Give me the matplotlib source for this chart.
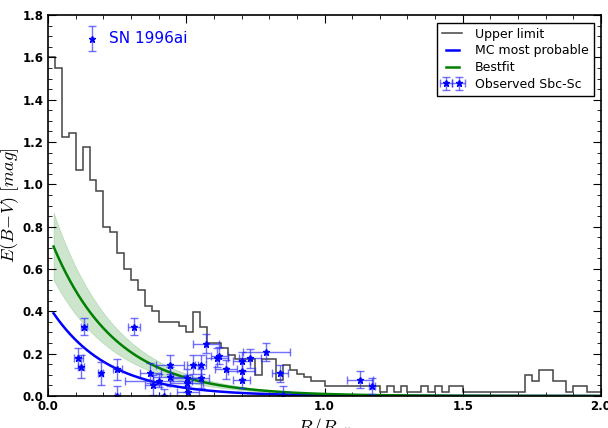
import numpy as np
import matplotlib
matplotlib.use("Agg")
import matplotlib.pyplot as plt
from matplotlib.ticker import MultipleLocator

plt.rcParams["mathtext.fontset"] = "cm"

# ---- data ----
bin_edges_start = 0.0
bin_width = 0.025
upper_limit = [1.60, 1.55, 1.225, 1.245, 1.07, 1.175, 1.02, 0.97, 0.80, 0.775,
               0.675, 0.60, 0.55, 0.50, 0.425, 0.40, 0.35, 0.35, 0.35, 0.33,
               0.30, 0.395, 0.325, 0.25, 0.25, 0.225, 0.195, 0.175, 0.175, 0.175,
               0.10, 0.175, 0.175, 0.077, 0.148, 0.125, 0.105, 0.09, 0.072, 0.072,
               0.048, 0.048, 0.048, 0.048, 0.048, 0.048, 0.048, 0.048, 0.02, 0.048,
               0.02, 0.048, 0.02, 0.02, 0.048, 0.02, 0.048, 0.02, 0.048, 0.048,
               0.02, 0.02, 0.02, 0.02, 0.02, 0.02, 0.02, 0.02, 0.02, 0.10,
               0.072, 0.123, 0.123, 0.072, 0.072, 0.02, 0.048, 0.048, 0.02, 0.02]

# model parameters (exponential profile E = A exp(-R/h))
best_amp, best_scale = 0.771, 0.228
best_band_lo, best_band_hi = 0.776, 1.228
mc_amp, mc_scale = 0.431, 0.205
r_min, r_max = 0.02, 2.0

obs_r    = [0.130, 0.310, 0.110, 0.120, 0.190, 0.251, 0.251, 0.370, 0.380, 0.400,
            0.441, 0.441, 0.420, 0.502, 0.507, 0.502, 0.523, 0.552, 0.552, 0.571,
            0.610, 0.620, 0.644, 0.700, 0.730, 0.790, 0.700, 0.700, 0.839, 0.851,
            1.128, 1.171]
obs_e    = [0.328, 0.328, 0.178, 0.139, 0.107, 0.126, 0.000, 0.110, 0.052, 0.072,
            0.147, 0.090, 0.000, 0.060, 0.020, 0.087, 0.147, 0.147, 0.084, 0.248,
            0.180, 0.190, 0.126, 0.165, 0.178, 0.207, 0.120, 0.076, 0.107, 0.005,
            0.076, 0.049]
obs_rerr = [0.012, 0.021, 0.016, 0.010, 0.010, 0.015, 0.010, 0.039, 0.030, 0.120,
            0.051, 0.060, 0.020, 0.060, 0.040, 0.050, 0.020, 0.020, 0.030, 0.048,
            0.040, 0.030, 0.040, 0.030, 0.040, 0.084, 0.050, 0.030, 0.030, 0.020,
            0.048, 0.010]
obs_eerr = [0.040, 0.040, 0.047, 0.055, 0.053, 0.051, 0.045, 0.047, 0.045, 0.030,
            0.045, 0.045, 0.035, 0.040, 0.040, 0.040, 0.045, 0.045, 0.045, 0.045,
            0.045, 0.040, 0.045, 0.045, 0.045, 0.043, 0.045, 0.040, 0.040, 0.040,
            0.040, 0.038]

sn_r, sn_e, sn_eerr = 0.160, 1.688, 0.058
sn_label = "SN 1996ai"

# ---- plot ----
fig = plt.figure(figsize=(6.08, 4.28), dpi=100, facecolor="white")
ax = fig.add_axes([0.079, 0.0748, 0.9095, 0.890])

edges = bin_edges_start + bin_width * np.arange(len(upper_limit) + 1)
ax.stairs(upper_limit, edges, baseline=None, color="#444444", lw=1.1,
          label="Upper limit")

r = np.linspace(r_min, r_max, 400)
mc = mc_amp * np.exp(-r / mc_scale)
best = best_amp * np.exp(-r / best_scale)
ax.fill_between(r, best * best_band_lo, best * best_band_hi, color="green",
                alpha=0.2, lw=0.5)
ax.plot(r, mc, color="blue", lw=1.8, label="MC most probable")
ax.plot(r, best, color="green", lw=1.8, label="Bestfit")

ecol = (0.15, 0.15, 1.0, 0.65)
ax.errorbar(obs_r, obs_e, xerr=obs_rerr, yerr=obs_eerr, fmt="*",
            color="blue", ms=5, mec="blue", ecolor=ecol,
            elinewidth=1.0, capsize=3, label="Observed Sbc-Sc")
ax.errorbar([sn_r], [sn_e], yerr=[sn_eerr], fmt="*", color="blue", ms=5,
            ecolor=ecol, elinewidth=1.0, capsize=3)
ax.text(sn_r + 0.06, sn_e, sn_label, color="blue", fontsize=11, va="center")

ax.set_xlim(0, 2.0)
ax.set_ylim(0, 1.8)
ax.xaxis.set_major_locator(MultipleLocator(0.5))
ax.xaxis.set_minor_locator(MultipleLocator(0.1))
ax.yaxis.set_major_locator(MultipleLocator(0.2))
ax.yaxis.set_minor_locator(MultipleLocator(0.05))
ax.tick_params(which="both", direction="in", top=True, right=True)
ax.tick_params(which="major", length=6, labelsize=8.5, pad=3)
ax.tick_params(which="minor", length=3)
for lab in ax.get_xticklabels() + ax.get_yticklabels():
    lab.set_fontweight("bold")
for s in ax.spines.values():
    s.set_linewidth(1.2)

ax.set_xlabel(r"$R/R_{25}$", fontsize=14)
ax.set_ylabel(r"$E(B\!-\!V)\ [mag]$", fontsize=13)
ax.xaxis.set_label_coords(0.5, -0.052)
ax.yaxis.set_label_coords(-0.048, 0.5)

leg = ax.legend(loc="upper right", fontsize=9, numpoints=2, fancybox=False,
                framealpha=1, edgecolor="black", borderaxespad=0.6,
                handlelength=1.6, handletextpad=1.0, labelspacing=0.3,
                borderpad=0.4)
leg.get_frame().set_linewidth(1.0)

fig.savefig("out.png", dpi=100, facecolor="white")
